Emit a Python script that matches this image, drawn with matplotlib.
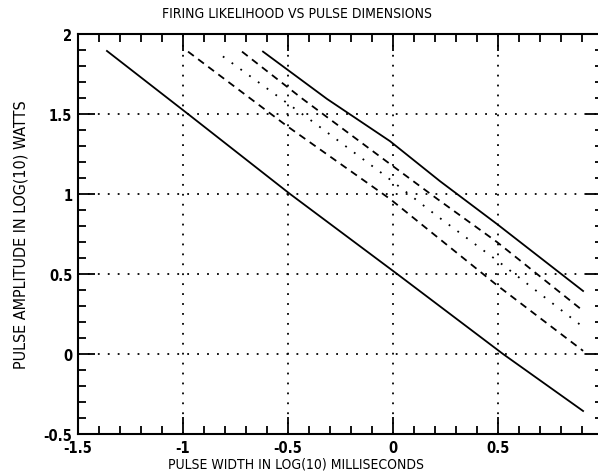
import matplotlib
matplotlib.use("Agg")
import matplotlib.pyplot as plt
from matplotlib.ticker import MultipleLocator, FixedFormatter, FixedLocator

# Data
line1_x = [-1.362, -0.976, -0.49, 0.02, 0.524, 0.905]
line1_y = [1.894, 1.5, 1.0, 0.5, 0.0, -0.356]

line2_x = [-0.976, -0.505, -0.014, 0.495, 0.905]
line2_y = [1.89, 1.425, 0.969, 0.43, 0.02]

line3_x = [-0.81, -0.38, -0.048, 0.21, 0.5, 0.905]
line3_y = [1.86, 1.45, 1.125, 0.8625, 0.58, 0.169]

line4_x = [-0.719, -0.43, -0.014, 0.21, 0.495, 0.905]
line4_y = [1.89, 1.594, 1.1875, 0.97, 0.70, 0.27]

line5_x = [-0.619, -0.314, -0.014, 0.224, 0.495, 0.905]
line5_y = [1.89, 1.594, 1.33, 1.08, 0.8125, 0.394]

xticks = [-1.5, -1, -0.5, 0, 0.5, 1]
xticklabels = ["-1.5", "-1", "-0.5", "0", "0.5", "1"]
yticks = [-0.5, 0, 0.5, 1, 1.5, 2]
yticklabels = ["-0.5", "0", "0.5", "1", "1.5", "2"]

title = "FIRING LIKELIHOOD VS PULSE DIMENSIONS"
xlabel = "PULSE WIDTH IN LOG(10) MILLISECONDS"
ylabel = "PULSE AMPLITUDE IN LOG(10) WATTS"

plt.rcParams['font.family'] = ['DejaVu Sans']
plt.rcParams['font.stretch'] = 'condensed'

fig = plt.figure(figsize=(5.98, 4.77), dpi=100)
ax = fig.add_axes([0.1304, 0.088, 0.878, 0.8386])

lw = 1.3
ax.plot(line1_x, line1_y, color='black', lw=lw, ls='-')
ax.plot(line2_x, line2_y, color='black', lw=lw, ls=(0, (4, 3)))
ax.plot(line3_x, line3_y, color='black', lw=lw, ls=(0, (1, 5)))
ax.plot(line4_x, line4_y, color='black', lw=lw, ls=(0, (4, 3)))
ax.plot(line5_x, line5_y, color='black', lw=lw, ls='-')

ax.set_xlim(-1.5, 1.0)
ax.set_ylim(-0.5, 2.0)

ax.xaxis.set_major_locator(FixedLocator(xticks))
ax.xaxis.set_major_formatter(FixedFormatter(xticklabels))
ax.yaxis.set_major_locator(FixedLocator(yticks))
ax.yaxis.set_major_formatter(FixedFormatter(yticklabels))
ax.xaxis.set_minor_locator(MultipleLocator(0.1))
ax.yaxis.set_minor_locator(MultipleLocator(0.1))

ax.tick_params(which='both', direction='in', top=True, right=True, color='black', width=1.3)
ax.tick_params(which='major', length=12, labelsize=10.5)
ax.tick_params(axis='x', which='major', pad=4)
ax.tick_params(axis='y', which='major', pad=4)
ax.tick_params(which='minor', length=6)
for lab in ax.get_xticklabels() + ax.get_yticklabels():
    lab.set_fontweight('bold')
    lab.set_fontstretch('condensed')

ax.grid(True, which='major', color='black', ls=(0, (1, 4.5)), lw=1.3)
for sp in ax.spines.values():
    sp.set_linewidth(1.5)
    sp.set_color('black')

fig.text(0.497, 0.97, title, ha='center', va='center', fontsize=10, fontstretch='condensed')
fig.text(0.495, 0.027, xlabel, ha='center', va='center', fontsize=10, fontstretch='condensed')
fig.text(0.035, 0.507, ylabel, ha='center', va='center', rotation=90, fontsize=11.5,
         fontstretch='condensed')

fig.savefig("out.png", dpi=100)
